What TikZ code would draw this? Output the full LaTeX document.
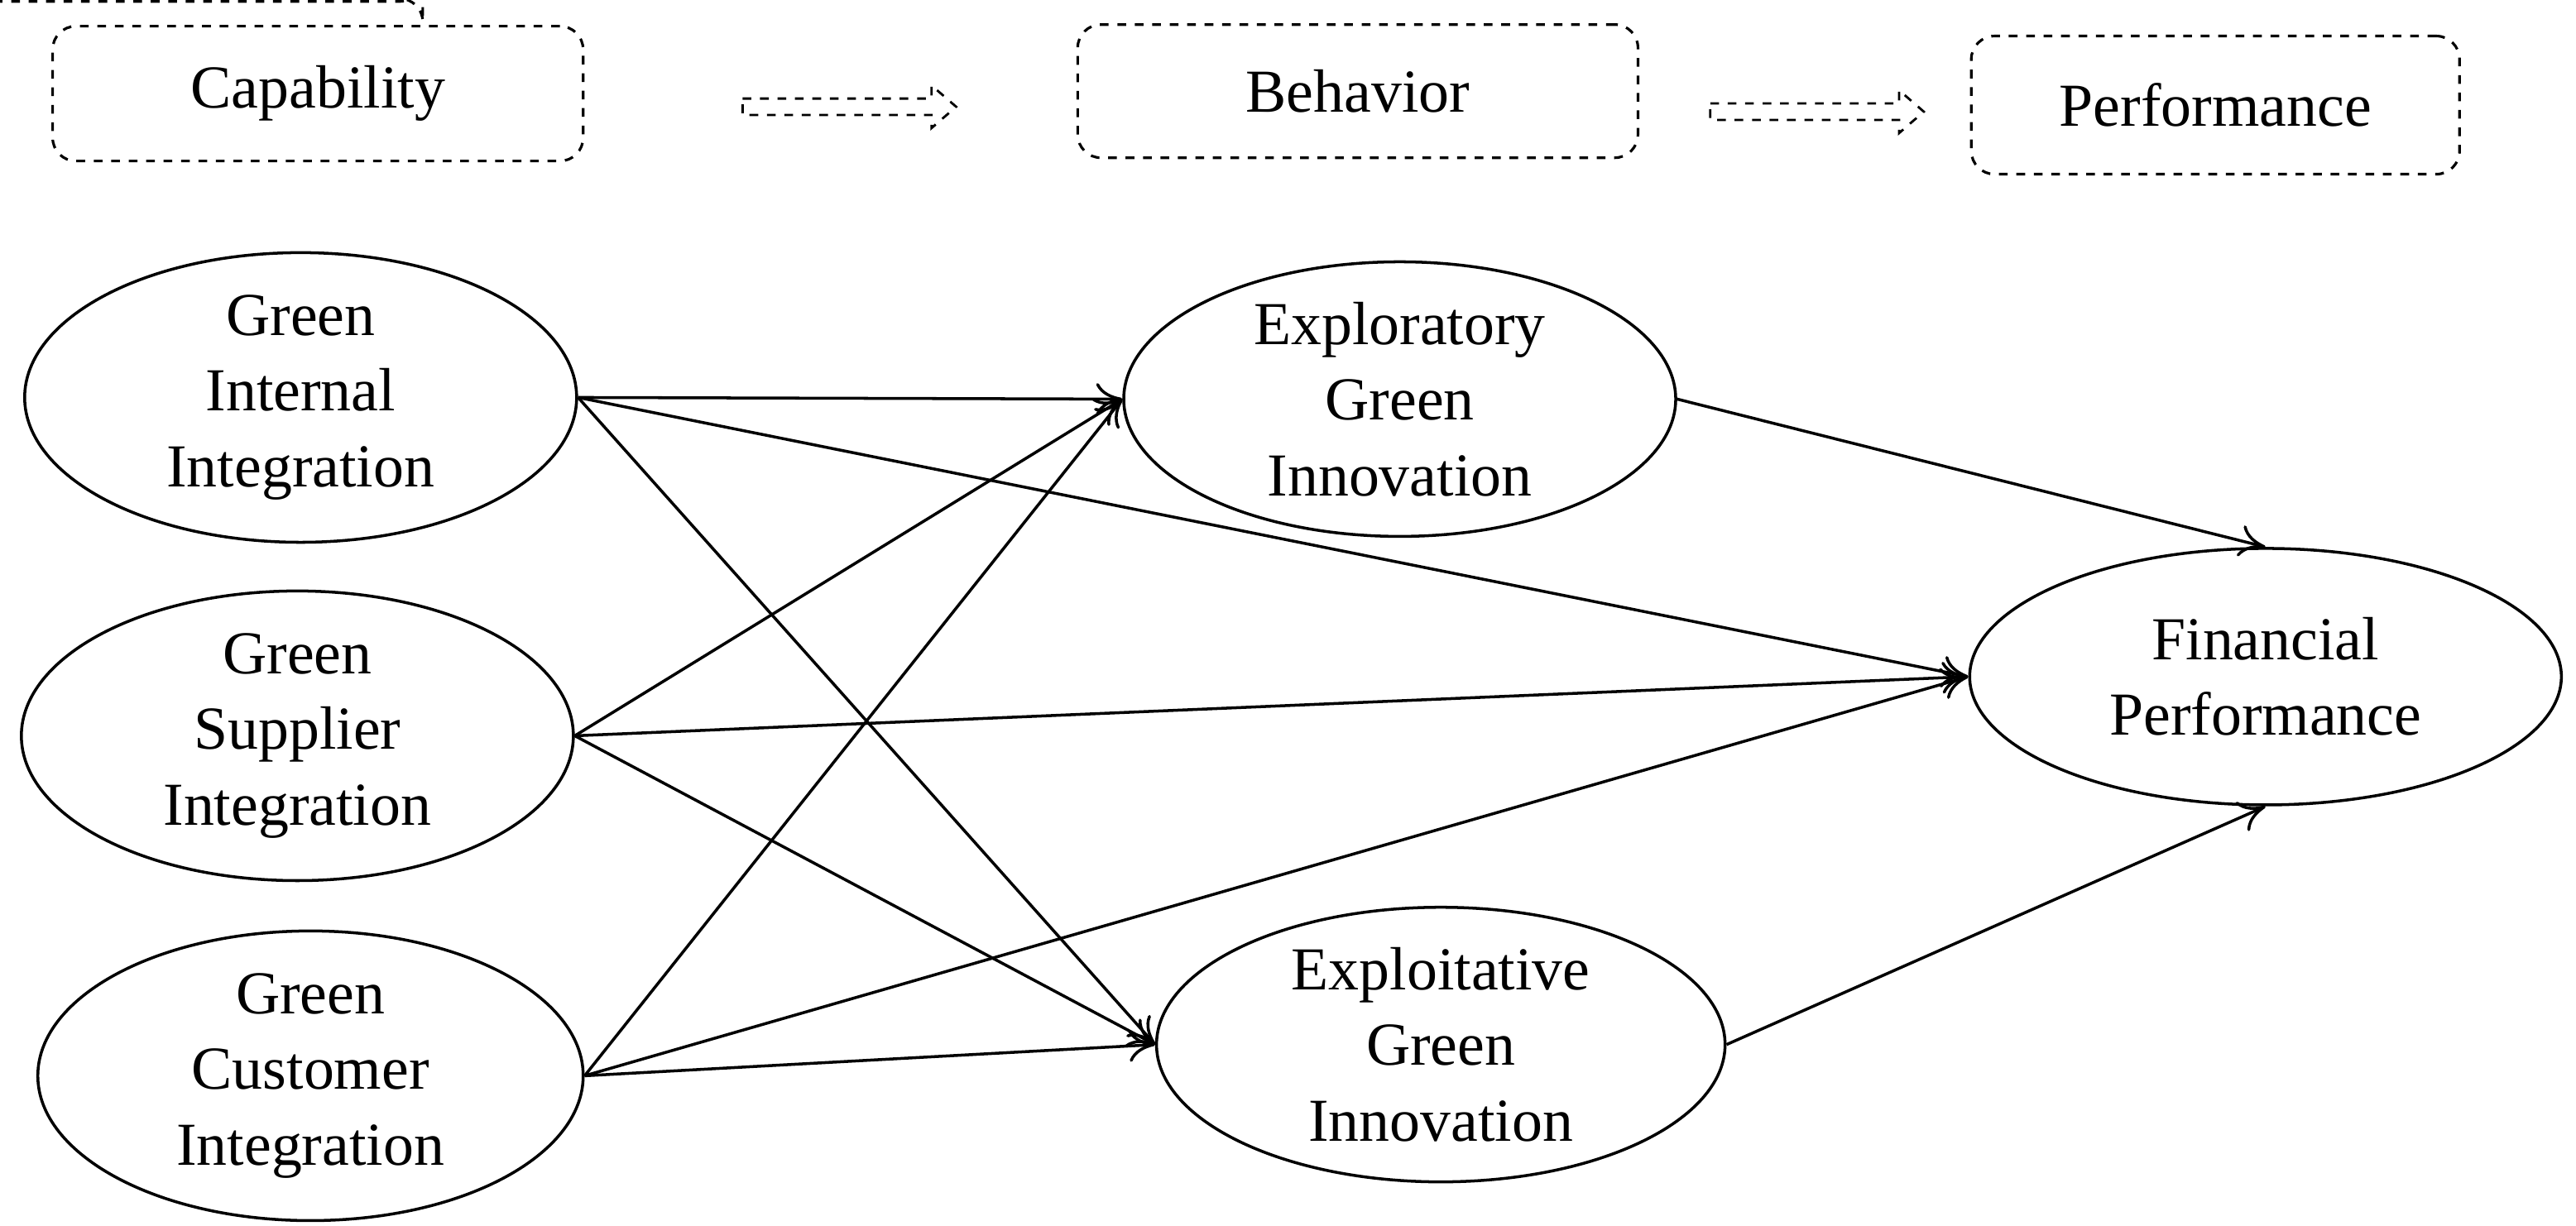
\documentclass[tikz,border=0pt]{standalone}
\usepackage{fontspec}
\setmainfont{Liberation Serif}
\usetikzlibrary{shapes.geometric,arrows.meta}
\begin{document}
\begin{tikzpicture}[x=0.01985cm,y=-0.01985cm,
  every node/.style={font=\fontsize{21}{26}\selectfont},
  hdr/.style={draw,dashed,rounded corners=8pt,line width=0.9pt,inner sep=0pt},
  ell/.style={draw,ellipse,line width=1pt,inner sep=0pt,align=center},
  arr/.style={line width=1pt,-{To[length=9pt,width=11pt]}}]
\useasboundingbox (0,0) rectangle (1568,746);
\node[hdr,minimum width=323\pgflinewidth] at (0,0) {};
\node[hdr,minimum width=6.41cm,minimum height=1.63cm] (cap) at (193.5,57) {Capability};
\node[hdr,minimum width=6.77cm,minimum height=1.61cm] (beh) at (826.5,55.5) {Behavior};
\node[hdr,minimum width=5.90cm,minimum height=1.67cm] (perf) at (1348.5,64) {Performance};
\foreach \x/\y in {452/65,1041/68}{
  \draw[dashed,line width=0.8pt] (\x,\y-5) -- (\x+115,\y-5) -- (\x+115,\y-13) -- (\x+130,\y) -- (\x+115,\y+13) -- (\x+115,\y+5) -- (\x,\y+5) -- cycle;}
\node[ell,minimum width=6.67cm,minimum height=3.10cm] (gii) at (183,242) {Green\\Internal\\Integration};
\node[ell,minimum width=6.67cm,minimum height=3.10cm] (gsi) at (181,448) {Green\\Supplier\\Integration};
\node[ell,minimum width=6.59cm,minimum height=3.10cm] (gci) at (189,655) {Green\\Customer\\Integration};
\node[ell,minimum width=6.67cm,minimum height=3.10cm] (egi) at (852,243) {Exploratory\\Green\\Innovation};
\node[ell,minimum width=6.87cm,minimum height=3.10cm] (xgi) at (877,636) {Exploitative\\Green\\Innovation};
\node[ell,minimum width=7.15cm,minimum height=3.10cm] (fp) at (1379,412) {Financial\\Performance};
\foreach \s in {gii,gsi,gci}{
  \draw[arr] (\s.east) -- (egi.west);
  \draw[arr] (\s.east) -- (fp.west);
  \draw[arr] (\s.east) -- (xgi.west);}
\draw[arr] (egi.east) -- (fp.north);
\draw[arr] (xgi.east) -- (fp.south);
\end{tikzpicture}
\end{document}
